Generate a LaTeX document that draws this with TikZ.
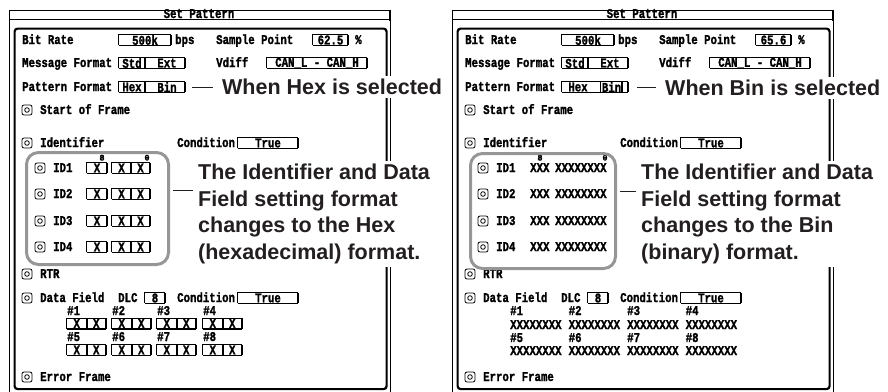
\documentclass[tikz,border=0pt]{standalone}
\usepackage{graphicx}
\usepackage{fontspec}
\newfontfamily\scrfont{Liberation Mono}[BoldFeatures={FakeBold=1.6}]
\newfontfamily\callfont{Liberation Sans}
\definecolor{calltext}{RGB}{35,31,32}
\definecolor{callgray}{RGB}{150,150,150}

% screen lettering: monospaced, a little taller than it is wide
\newcommand\scr[1]{\scalebox{1}[1.25]{#1}}

\tikzset{
  scr/.style={font=\scrfont\bfseries\fontsize{10.7}{12}\selectfont, inner sep=0pt, anchor=base west},
  tinydigit/.style={font=\scrfont\bfseries\fontsize{8.5}{9}\selectfont, inner sep=0pt, anchor=base},
  fieldnode/.style={font=\scrfont\bfseries\fontsize{10.7}{12}\selectfont, inner sep=0pt, minimum height=10.5pt},
  thinline/.style={line width=0.7pt},
  thickline/.style={line width=1.8pt},
  outerline/.style={line width=1pt},
  radio/.style={draw, line width=0.8pt, rounded corners=2pt, minimum size=10pt, inner sep=0pt},
  panel/.style={draw, line width=2.2pt, rounded corners=3pt, inner sep=0pt},
  callout/.style={font=\callfont\bfseries\fontsize{21.5}{26.5}\selectfont, text=calltext, fill=white, inner sep=3pt, align=left},
  lead/.style={draw=calltext, line width=1pt},
  idgroup/.style={draw=callgray, line width=3pt, rounded corners=12pt, inner sep=0pt},
}

% entry field: name, left x, right x, centre y, contents
\newcommand\fld[5]{%
  \node[fieldnode, minimum width={(#3)-(#2)}] (#1) at ({((#2)+(#3))/2},#4) {\scr{#5}};
  \draw[thinline] (#1.north east) -- (#1.north west) -- (#1.south west);
  \draw[line width=1.2pt] (#1.south west) -- (#1.south east);
  \draw[thickline] (#1.south east) -- (#1.north east);
}
% option button: name, x, y
\newcommand\radiob[3]{%
  \node[radio] (#1) at (#2,#3) {};
  \draw[line width=0.8pt] (#1.center) circle[radius=2.3pt];
}
% screen label: name, x, baseline y, text
\newcommand\st[4]{\node[scr] (#1) at (#2,#3) {\scr{#4}};}

% the parts both dialog windows share: prefix, sample point value
\newcommand\commonpanel[2]{%
  \draw[outerline] (9,392) -- (9,10) -- (390,10);
  \draw[outerline] (9,19.5) -- (389,19.5);
  \draw[line width=2pt] (389.5,9.5) -- (389.5,20.5);
  \draw[outerline] (390.5,20) -- (390.5,392);
  \node[panel, minimum width=372pt, minimum height=360.5pt, anchor=north west] (#1panel) at (13.5,27.5) {};
  \node[scr, anchor=base] (#1title) at (199,18) {\scr{Set Pattern}};
  \st{#1br}{22}{44}{Bit Rate}
  \fld{#1rate}{119}{171}{40}{500k}
  \st{#1bps}{175}{44}{bps}
  \st{#1sp}{216}{44}{Sample Point}
  \fld{#1spv}{313}{348}{40}{#2}
  \st{#1pct}{355}{44}{\%}
  \st{#1mf}{22}{67}{Message Format}
  \fld{#1mfo}{119}{185}{63}{}
  \fld{#1std}{119}{145}{63}{Std}
  \node[fieldnode] (#1ext) at (167,63) {\scr{Ext}};
  \st{#1vd}{216}{67}{Vdiff}
  \fld{#1vdv}{267}{367}{63}{CAN\_L - CAN\_H}
  \st{#1pf}{22}{91}{Pattern Format}
  \fld{#1pfo}{119}{185}{87}{}
  \radiob{#1sofb}{27}{110}
  \st{#1sof}{40}{114}{Start of Frame}
  \radiob{#1idb}{27}{143}
  \st{#1id}{40}{147}{Identifier}
  \st{#1idc}{177}{147}{Condition}
  \fld{#1idt}{238}{298}{143}{True}
  \foreach \k/\yy in {1/168,2/194,3/221,4/247}{
    \radiob{#1r\k}{40}{\yy}
    \st{#1n\k}{53}{\yy+4}{ID\k}
  }
  \radiob{#1rtrb}{27}{274}
  \st{#1rtr}{40}{278}{RTR}
  \radiob{#1dfb}{27}{298}
  \st{#1df}{40}{302}{Data Field}
  \st{#1dlc}{118}{302}{DLC}
  \fld{#1dlcv}{145}{165}{298}{8}
  \st{#1dfc}{177}{302}{Condition}
  \fld{#1dft}{238}{298}{298}{True}
  \radiob{#1efb}{27}{377}
  \st{#1ef}{40}{381}{Error Frame}
}

\begin{document}
\begin{tikzpicture}[x=1pt,y=-1pt]
\useasboundingbox (0,0) rectangle (888,391);

% ---------- hexadecimal pattern format ----------
\begin{scope}
  \commonpanel{L}{62.5}
  \fld{Lhex}{119}{145}{87}{Hex}
  \node[fieldnode] (Lbin) at (167,87) {\scr{Bin}};
  \node[tinydigit] (Lb8) at (102,160.5) {8};
  \node[tinydigit] (Lb0) at (147,160.5) {0};
  \foreach \k/\yy in {1/168,2/194,3/221,4/247}{
    \fld{Lxa\k}{87}{107}{\yy}{X}
    \fld{Lxb\k}{112}{131}{\yy}{X}
    \fld{Lxc\k}{131}{150}{\yy}{X}
  }
  \foreach \i/\xx in {1/67,2/112,3/157,4/203}{
    \pgfmathtruncatemacro\j{\i+4}
    \st{Lh\i}{\xx}{315}{\#\i}
    \fld{Lda\i}{\xx}{\xx+19.5}{323.5}{X}
    \fld{Ldb\i}{\xx+19.5}{\xx+39}{323.5}{X}
    \st{Lhh\i}{\xx}{341}{\#\j}
    \fld{Ldc\i}{\xx}{\xx+19.5}{350}{X}
    \fld{Ldd\i}{\xx+19.5}{\xx+39}{350}{X}
  }
  \node[idgroup, minimum width=142pt, minimum height=112pt, anchor=north west] (Lgrp) at (25,151) {};
  \node[callout, anchor=base west] (Lpfnote) at (219,94.7) {When Hex is selected};
  \draw[lead] ([xshift=7pt]Lpfo.east) -- ([xshift=-6pt]Lpfo.east -| Lpfnote.west);
  \node[callout, anchor=north west] (Lidnote) at (195,161)
    {The Identifier and Data\\Field setting format\\changes to the Hex\\(hexadecimal) format.};
  \coordinate (Lleady) at (0,190);
  \draw[lead] ([xshift=3pt]Lgrp.east |- Lleady) -- ([xshift=-2pt]Lidnote.west |- Lleady);
\end{scope}

% ---------- binary pattern format ----------
\begin{scope}[xshift=443pt]
  \commonpanel{R}{65.6}
  \node[fieldnode] (Rhex) at (135,87) {\scr{Hex}};
  \fld{Rbin}{158}{179}{87}{Bin}
  \node[tinydigit] (Rb8) at (97,160.5) {8};
  \node[tinydigit] (Rb0) at (162,160.5) {0};
  \foreach \k/\yy in {1/168,2/194,3/221,4/247}{
    \st{Rxa\k}{87}{\yy+4}{XXX}
    \st{Rxb\k}{112}{\yy+4}{XXXXXXXX}
  }
  \foreach \i/\xx in {1/67,2/125.5,3/184,4/242.5}{
    \pgfmathtruncatemacro\j{\i+4}
    \st{Rh\i}{\xx}{315}{\#\i}
    \st{Rda\i}{\xx}{329}{XXXXXXXX}
    \st{Rhh\i}{\xx}{342}{\#\j}
    \st{Rdb\i}{\xx}{355}{XXXXXXXX}
  }
  \node[idgroup, minimum width=145pt, minimum height=115pt, anchor=north west] (Rgrp) at (26,152) {};
  \node[callout, anchor=base west] (Rpfnote) at (219,95.5) {When Bin is selected};
  \draw[lead] ([xshift=9pt]Rpfo.east) -- ([xshift=-6pt]Rpfo.east -| Rpfnote.west);
  \node[callout, anchor=north west] (Ridnote) at (195,161)
    {The Identifier and Data\\Field setting format\\changes to the Bin\\(binary) format.};
  \coordinate (Rleady) at (0,191);
  \draw[lead] ([xshift=3pt]Rgrp.east |- Rleady) -- ([xshift=-2pt]Ridnote.west |- Rleady);
\end{scope}
\end{tikzpicture}
\end{document}
